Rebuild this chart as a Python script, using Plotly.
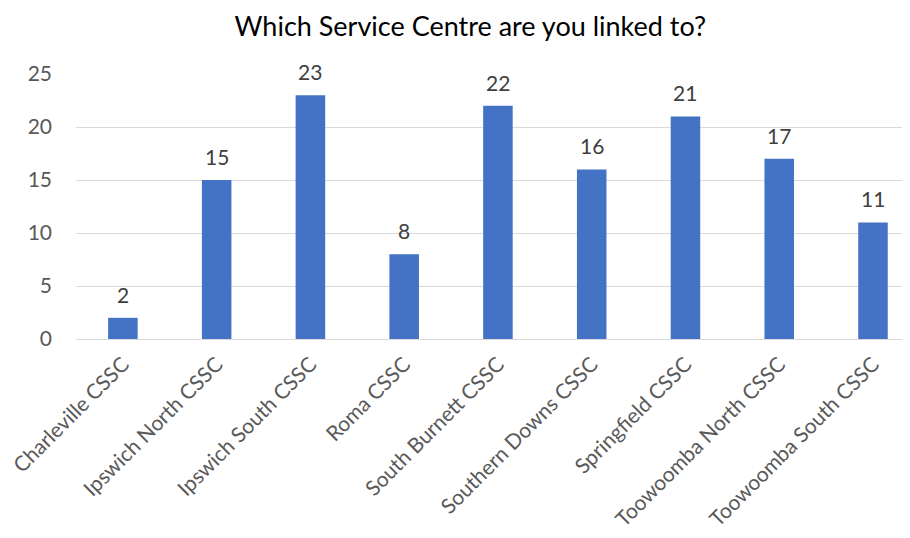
import plotly.graph_objects as go

CENTRES = [
    "Charleville CSSC", "Ipswich North CSSC", "Ipswich South CSSC", "Roma CSSC",
    "South Burnett CSSC", "Southern Downs CSSC", "Springfield CSSC",
    "Toowoomba North CSSC", "Toowoomba South CSSC",
]
COUNTS = [2, 15, 23, 8, 22, 16, 21, 17, 11]
Y_TICKS = [0, 5, 10, 15, 20, 25]

BAR_COL = "#4472C4"
GRID_COL = "#d9d9d9"
FONT = "Lato, Carlito, Calibri, sans-serif"

xs = list(range(len(CENTRES)))

fig = go.Figure(go.Bar(
    x=xs,
    y=COUNTS,
    width=0.315,
    marker=dict(color=BAR_COL, line=dict(width=0)),
    cliponaxis=False,
))

# value labels above each bar
for x, v in zip(xs, COUNTS):
    fig.add_annotation(x=x, y=v, text=str(v), showarrow=False, yanchor="bottom",
                       yshift=9, font=dict(size=21, color="#404040", family=FONT))

fig.update_layout(
    width=910, height=538,
    paper_bgcolor="white", plot_bgcolor="white",
    font=dict(family=FONT, color="#595959"),
    title=dict(text="Which Service Centre are you linked to?", x=0.508, xanchor="center",
               y=0.965, yanchor="middle", font=dict(size=27, color="#000000", family=FONT)),
    margin=dict(l=68, r=0, t=66, b=207),
    showlegend=False,
    xaxis=dict(
        range=[-0.5, 8.48], automargin=False,
        tickmode="array", tickvals=xs, ticktext=CENTRES,
        tickangle=-45, tickfont=dict(size=21, color="#595959"),
        ticklabeloverflow="allow", ticklabelstandoff=8,
        showgrid=False, zeroline=False, showline=False, ticks="",
    ),
    yaxis=dict(
        range=[0, 25], tickvals=Y_TICKS, automargin=False,
        tickfont=dict(size=21, color="#595959"),
        gridcolor=GRID_COL, gridwidth=1.3, zeroline=True, zerolinecolor=GRID_COL,
        zerolinewidth=1.3, ticks="", ticklen=0, ticklabelstandoff=23,
    ),
)

fig.write_html("out.html")
